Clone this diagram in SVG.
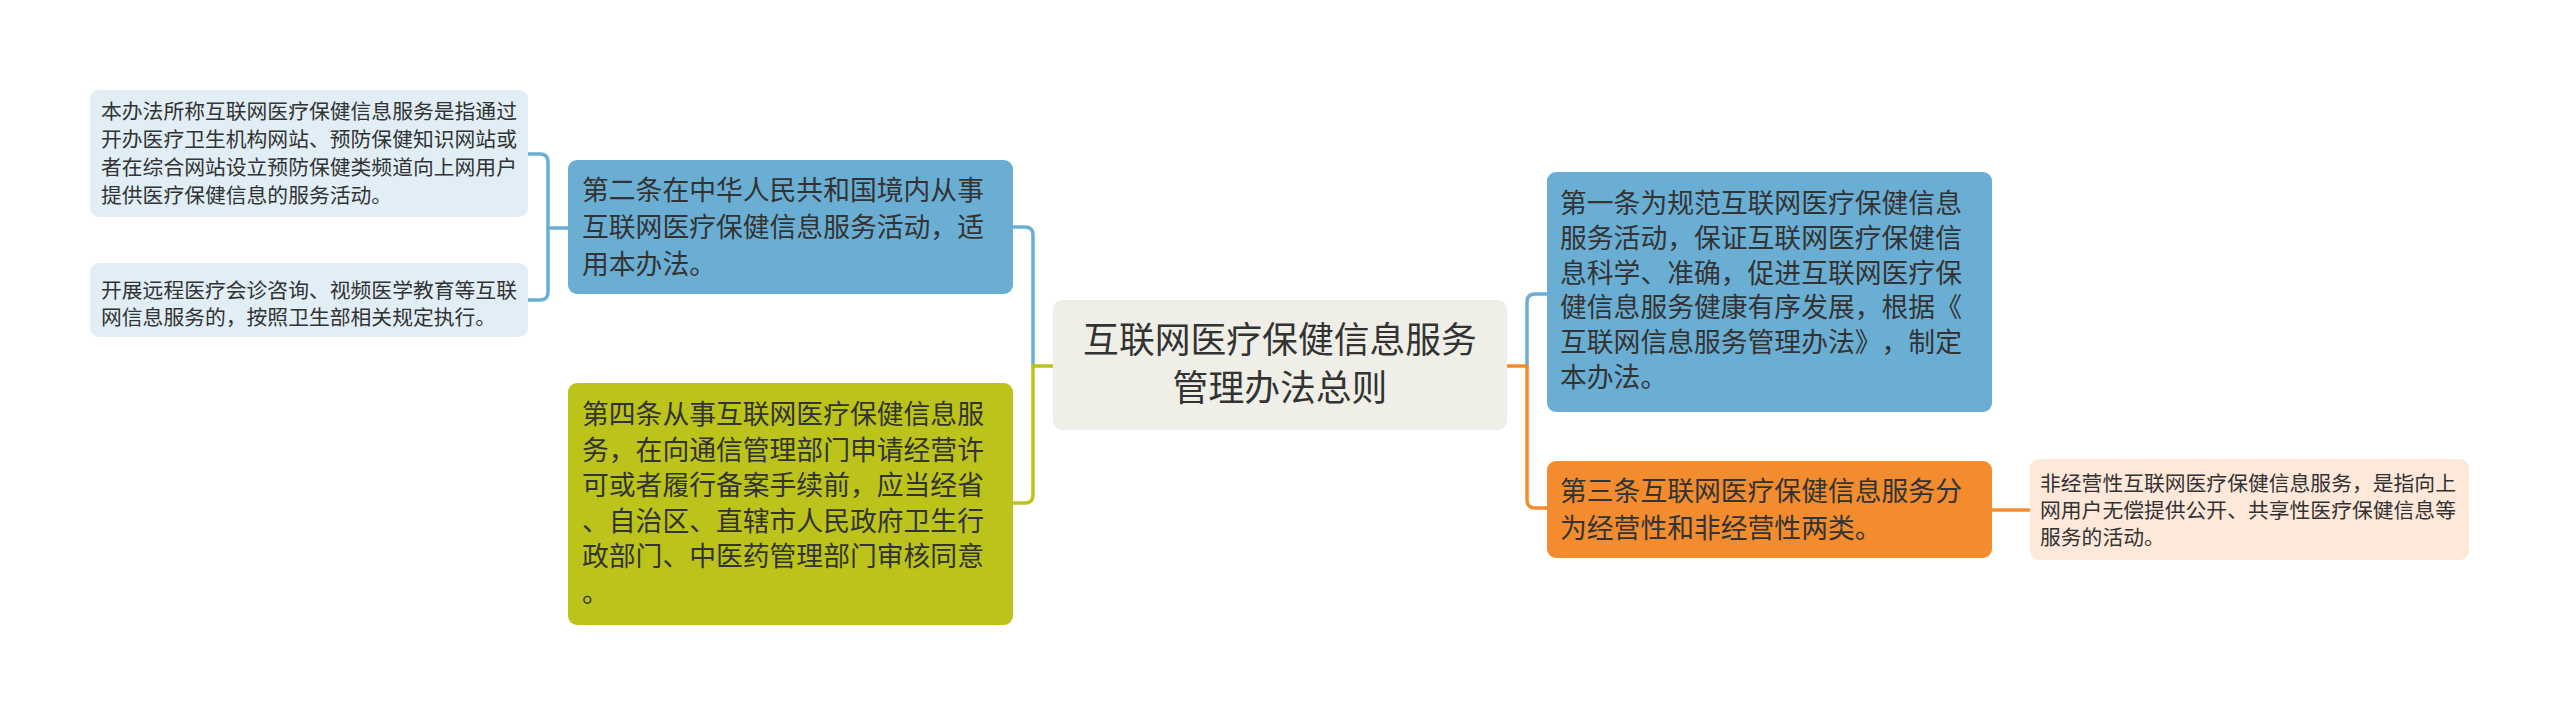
<svg xmlns="http://www.w3.org/2000/svg" width="2560" height="715" viewBox="0 0 2560 715">
<style>
text{font-family:"Noto Sans CJK SC","Noto Sans",sans-serif;fill:#333333;text-spacing-trim:space-all}
.s{font-size:20.8px}
.m{font-size:26.8px}
.c{font-size:35.8px;text-anchor:middle}
.ln{fill:none;stroke-width:3.5;stroke-linecap:round;stroke-linejoin:round}
.b{stroke:#6AAED3}
.o{stroke:#BCC31A}
.r{stroke:#F28C2F}
</style>
<rect width="2560" height="715" fill="#ffffff"/>
<g id="connectors">
<path class="ln b" d="M528,154 H540 Q548,154 548,162 V292 Q548,300 540,300 H528"/>
<path class="ln b" d="M548,228 H568"/>
<path class="ln b" d="M1013,227 H1025 Q1033,227 1033,235 V366"/>
<path class="ln o" d="M1033,366 V495 Q1033,503 1025,503 H1013"/>
<path class="ln o" d="M1033,366 H1053"/>
<path class="ln r" d="M1507,366 H1527"/>
<path class="ln b" d="M1527,366 V302 Q1527,294 1535,294 H1547"/>
<path class="ln r" d="M1527,366 V500 Q1527,508 1535,508 H1547"/>
<path class="ln r" d="M1992,510 H2030"/>
</g>
<g id="center">
<rect x="1053" y="300" width="454" height="130" rx="9" fill="#EFEFE7"/>
<text class="c" x="1280" y="353">互联网医疗保健信息服务</text>
<text class="c" x="1280" y="401">管理办法总则</text>
</g>
<g id="art2">
<rect x="568" y="160" width="445" height="134" rx="9" fill="#6AAED3"/>
<text class="m" x="582" y="200">第二条在中华人民共和国境内从事</text>
<text class="m" x="582" y="237">互联网医疗保健信息服务活动，适</text>
<text class="m" x="582" y="274">用本办法。</text>
</g>
<g id="leaf1">
<rect x="90" y="90" width="438" height="127" rx="9" fill="#E1EEF6"/>
<text class="s" x="101" y="119">本办法所称互联网医疗保健信息服务是指通过</text>
<text class="s" x="101" y="147">开办医疗卫生机构网站、预防保健知识网站或</text>
<text class="s" x="101" y="175">者在综合网站设立预防保健类频道向上网用户</text>
<text class="s" x="101" y="203">提供医疗保健信息的服务活动。</text>
</g>
<g id="leaf2">
<rect x="90" y="263" width="438" height="74" rx="9" fill="#E1EEF6"/>
<text class="s" x="101" y="298">开展远程医疗会诊咨询、视频医学教育等互联</text>
<text class="s" x="101" y="325">网信息服务的，按照卫生部相关规定执行。</text>
</g>
<g id="art4">
<rect x="568" y="383" width="445" height="242" rx="9" fill="#BCC31A"/>
<text class="m" x="582" y="424">第四条从事互联网医疗保健信息服</text>
<text class="m" x="582" y="460">务，在向通信管理部门申请经营许</text>
<text class="m" x="582" y="495">可或者履行备案手续前，应当经省</text>
<text class="m" x="582" y="531">、自治区、直辖市人民政府卫生行</text>
<text class="m" x="582" y="566">政部门、中医药管理部门审核同意</text>
<text class="m" x="582" y="602">。</text>
</g>
<g id="art1">
<rect x="1547" y="172" width="445" height="240" rx="9" fill="#6AAED3"/>
<text class="m" x="1560" y="213">第一条为规范互联网医疗保健信息</text>
<text class="m" x="1560" y="248">服务活动，保证互联网医疗保健信</text>
<text class="m" x="1560" y="283">息科学、准确，促进互联网医疗保</text>
<text class="m" x="1560" y="317">健信息服务健康有序发展，根据《</text>
<text class="m" x="1560" y="352">互联网信息服务管理办法》，制定</text>
<text class="m" x="1560" y="387">本办法。</text>
</g>
<g id="art3">
<rect x="1547" y="461" width="445" height="97" rx="9" fill="#F28C2F"/>
<text class="m" x="1560" y="501">第三条互联网医疗保健信息服务分</text>
<text class="m" x="1560" y="538">为经营性和非经营性两类。</text>
</g>
<g id="leaf3">
<rect x="2030" y="459" width="439" height="101" rx="9" fill="#FDE8DA"/>
<text class="s" x="2040" y="491">非经营性互联网医疗保健信息服务，是指向上</text>
<text class="s" x="2040" y="518">网用户无偿提供公开、共享性医疗保健信息等</text>
<text class="s" x="2040" y="545">服务的活动。</text>
</g>
</svg>
